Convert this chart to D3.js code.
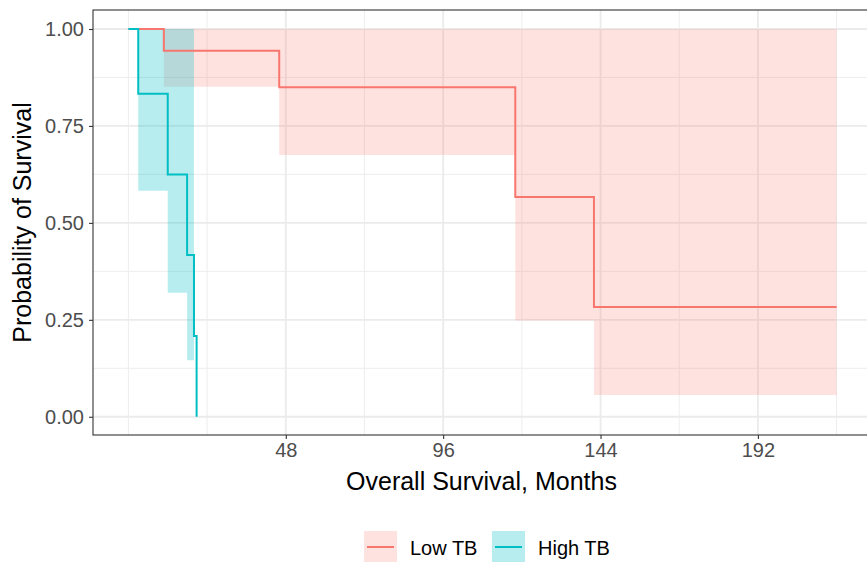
<!DOCTYPE html>
<html>
<head>
<meta charset="utf-8">
<script src="https://cdn.jsdelivr.net/npm/d3@7"></script>
<style>
  body { margin: 0; background: #fff; }
  svg { display: block; font-family: "Liberation Sans", Arial, sans-serif; }
</style>
</head>
<body>
<svg id="svg1" width="867" height="562"></svg>
<script>
// Kaplan-Meier steps
var groups = ["Low TB", "High TB"];
var colors = ["#F8766D", "#00BFC4"];

var lowTime  = [0, 10.8, 46, 118, 142, 216];
var lowSurv  = [1, 0.944, 0.85, 0.567, 0.283, 0.283];
var lowUpper = [1, 1, 1, 1, 1, null];
var lowLower = [1, 0.851, 0.675, 0.248, 0.056, null];

var highTime  = [0, 3, 12, 17.9, 20, 20.8];
var highSurv  = [1, 0.833, 0.625, 0.417, 0.208, 0];
var highUpper = [1, 1, 1, 1, null, null];
var highLower = [1, 0.583, 0.32, 0.146, null, null];

var xBreaks = [48, 96, 144, 192];
var xMinor = [0, 24, 72, 120, 168, 216];
var yBreaks = [0, 0.25, 0.5, 0.75, 1];
var yMinor = [0.125, 0.375, 0.625, 0.875];

var series = [
  {name: groups[0], color: colors[0], time: lowTime, surv: lowSurv, upper: lowUpper, lower: lowLower},
  {name: groups[1], color: colors[1], time: highTime, surv: highSurv, upper: highUpper, lower: highLower}
];

var svg = d3.select("#svg1"),
  panel = {left: 93, top: 10, right: 872, bottom: 435};

var x = d3.scaleLinear().domain([-10.8, 226.8]).range([panel.left, panel.right]);
var y = d3.scaleLinear().domain([-0.047, 1.049]).range([panel.bottom, panel.top]);

var g = svg.append("g");

// grid
g.selectAll(".ymin").data(yMinor).enter().append("line")
  .attr("x1", panel.left).attr("x2", panel.right)
  .attr("y1", d => y(d)).attr("y2", d => y(d))
  .attr("stroke", "#EBEBEB").attr("stroke-width", 0.9);
g.selectAll(".xmin").data(xMinor).enter().append("line")
  .attr("y1", panel.top).attr("y2", panel.bottom)
  .attr("x1", d => x(d)).attr("x2", d => x(d))
  .attr("stroke", "#EBEBEB").attr("stroke-width", 0.9);
g.selectAll(".ymaj").data(yBreaks).enter().append("line")
  .attr("x1", panel.left).attr("x2", panel.right)
  .attr("y1", d => y(d)).attr("y2", d => y(d))
  .attr("stroke", "#EBEBEB").attr("stroke-width", 1.8);
g.selectAll(".xmaj").data(xBreaks).enter().append("line")
  .attr("y1", panel.top).attr("y2", panel.bottom)
  .attr("x1", d => x(d)).attr("x2", d => x(d))
  .attr("stroke", "#EBEBEB").attr("stroke-width", 1.8);

// confidence ribbons, one step per interval
function ribbonPoints(s) {
  var pts = [];
  for (var i = 0; i < s.time.length - 1; i++) {
    if (s.upper[i] == null) continue;
    pts.push({t: s.time[i], lo: s.lower[i], hi: s.upper[i]});
    pts.push({t: s.time[i + 1], lo: s.lower[i], hi: s.upper[i]});
  }
  return pts;
}
var area = d3.area()
  .x(d => x(d.t))
  .y0(d => y(d.lo))
  .y1(d => y(d.hi));

series.forEach(function(s, i) {
  g.append("path")
    .datum(ribbonPoints(s))
    .attr("fill", s.color)
    .attr("fill-opacity", i == 0 ? 0.21 : 0.28)
    .attr("d", area);
});

var line = d3.line()
  .curve(d3.curveStepAfter)
  .x(d => x(d[0]))
  .y(d => y(d[1]));

series.forEach(function(s) {
  g.append("path")
    .datum(d3.zip(s.time, s.surv))
    .attr("fill", "none")
    .attr("stroke", s.color)
    .attr("stroke-width", 2)
    .attr("d", line);
});

// panel border
g.append("rect")
  .attr("x", panel.left).attr("y", panel.top)
  .attr("width", panel.right - panel.left).attr("height", panel.bottom - panel.top)
  .attr("fill", "none").attr("stroke", "#333").attr("stroke-width", 1.1);

// axes
var xAxis = svg.append("g")
  .attr("transform", "translate(0," + panel.bottom + ")")
  .call(d3.axisBottom(x).tickValues(xBreaks).tickSize(4).tickPadding(4).tickFormat(d3.format("d")));
var yAxis = svg.append("g")
  .attr("transform", "translate(" + panel.left + ",0)")
  .call(d3.axisLeft(y).tickValues(yBreaks).tickSize(4).tickPadding(5).tickFormat(d3.format(".2f")));
[xAxis, yAxis].forEach(function(a) {
  a.select(".domain").remove();
  a.selectAll(".tick line").attr("stroke", "#333").attr("stroke-width", 1.1);
  a.selectAll(".tick text").attr("fill", "#4D4D4D").style("font-size", "20px")
    .style("font-family", "Liberation Sans, Arial, sans-serif");
});

svg.append("text")
  .attr("x", (panel.left + panel.right) / 2 - 1).attr("y", 490)
  .attr("text-anchor", "middle")
  .style("font-size", "25px")
  .text("Overall Survival, Months");

svg.append("text")
  .attr("transform", "translate(31," + ((panel.top + panel.bottom) / 2) + ") rotate(-90)")
  .attr("text-anchor", "middle")
  .style("font-size", "25px")
  .text("Probability of Survival");

// legend
var legendX = [364, 492];
series.forEach(function(s, i) {
  var lg = svg.append("g").attr("transform", "translate(" + legendX[i] + ",531)");
  lg.append("rect").attr("width", 33).attr("height", 32)
    .attr("fill", s.color).attr("fill-opacity", i == 0 ? 0.21 : 0.28);
  lg.append("line").attr("x1", 3).attr("x2", 30).attr("y1", 16).attr("y2", 16)
    .attr("stroke", s.color).attr("stroke-width", 2);
  lg.append("text").attr("x", 46).attr("y", 24)
    .style("font-size", "20px")
    .text(s.name);
});
</script>
</body>
</html>
